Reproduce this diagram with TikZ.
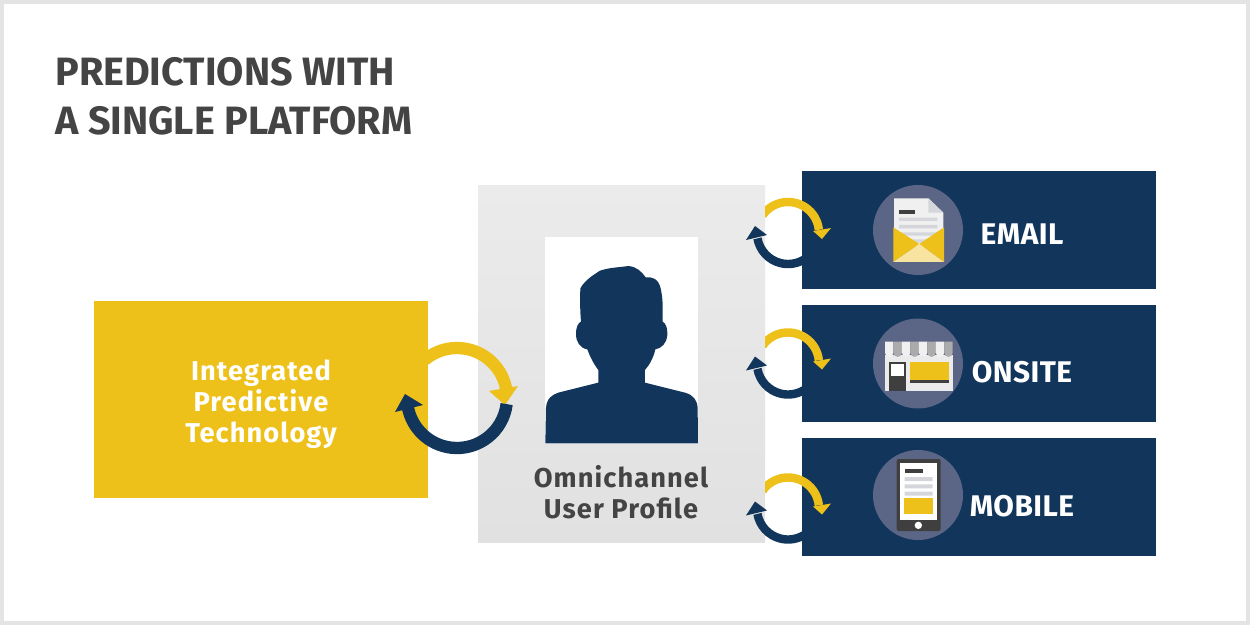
\documentclass[tikz,border=0pt]{standalone}
\usepackage{fontspec}
\setmainfont{Fira Sans}
\newfontfamily\labfont{Fira Sans}[BoldFont={Fira Sans Bold},LetterSpace=1.5]
\newfontfamily\boxfont{Fira Sans}[BoldFont={Fira Sans Bold},LetterSpace=4]
\newfontfamily\headfont{Fira Sans}[BoldFont={Fira Sans Bold}]
\usetikzlibrary{calc}
\definecolor{navy}{HTML}{12355B}
\definecolor{gold}{HTML}{EEC11A}
\definecolor{ink}{HTML}{444444}
\definecolor{framegray}{HTML}{E4E4E4}
\definecolor{halo}{HTML}{5B6585}
\definecolor{paper}{HTML}{F0F0F0}
\definecolor{rule}{HTML}{D4D6DC}
\definecolor{dark}{HTML}{3F3F3F}
\definecolor{pale}{HTML}{F8E3A0}
\definecolor{awn}{HTML}{ABABAB}
\definecolor{paneltop}{HTML}{EBEBEB}
\definecolor{panelbot}{HTML}{E1E1E1}
\tikzset{
  x=0.02cm,y=-0.02cm,
  chanbox/.style={fill=navy},
  halocircle/.style={circle,fill=halo,inner sep=0pt,minimum size=1.8cm},
  chanlabel/.style={text=white,font=\labfont\bfseries\fontsize{17}{20}\selectfont,inner sep=0pt,anchor=center},
  boxlabel/.style={font=\boxfont\bfseries\fontsize{15.5}{17.6}\selectfont,align=center,inner sep=0pt,anchor=center},
  titlelabel/.style={anchor=base west,inner sep=0pt,text=ink,font=\headfont\bfseries\fontsize{22.5}{28}\selectfont},
  ylw/.style={draw=gold,line width=4.8pt},
  nvy/.style={draw=navy,line width=4.8pt},
}
\newcommand{\navyarc}[2]{%
  \coordinate (c) at (#1,#2);
  \draw[nvy] ($(c)+(14:31)$) arc (14:170:31);
  \fill[navy] ($(c)+(-33,-7)$) -- ($(c)+(-42,7)$) -- ($(c)+(-21,2)$) -- cycle;
}
\newcommand{\goldarc}[2]{%
  \coordinate (c) at (#1,#2);
  \begin{scope}
    \clip (765,100) rectangle (900,600);
    \draw[ylw] ($(c)+(-145:31)$) arc (-145:-6:31);
  \end{scope}
  \fill[gold] ($(c)+(34,6)$) -- ($(c)+(25,-2)$) -- ($(c)+(43,-5)$) -- cycle;
}
\begin{document}
\begin{tikzpicture}
\useasboundingbox (0,0) rectangle (1250,625);
\fill[white] (0,0) rectangle (1250,625);
\draw[framegray,line width=2.3pt] (2,2) rectangle (1248,623);

\node[titlelabel] (t1) at (55,86) {PREDICTIONS WITH};
\node[titlelabel] (t2) at (55,134.5) {A SINGLE PLATFORM};

\path[top color=paneltop,bottom color=panelbot] (478,185) rectangle (765,542);
\fill[white] (545,237) rectangle (698,444);
\begin{scope}[shift={(390,230)},x=0.00667cm,y=-0.00667cm]
\fill[navy] (466,640) -- (468,535) .. controls (470,505) and (485,495) .. (505,488)
  -- (625,458) -- (625,420) .. controls (610,400) and (600,380) .. (592,358)
  .. controls (570,355) and (558,335) .. (558,312) .. controls (558,290) and (565,278) .. (573,275)
  .. controls (570,240) and (570,210) .. (571,175) .. controls (585,150) and (610,135) .. (630,122)
  .. controls (660,112) and (690,112) .. (715,108) .. controls (740,110) and (755,125) .. (767,142)
  .. controls (785,140) and (805,145) .. (812,175) .. controls (820,210) and (818,240) .. (818,275)
  .. controls (828,280) and (833,295) .. (832,315) .. controls (830,340) and (815,355) .. (796,358)
  .. controls (790,385) and (778,405) .. (765,420) -- (765,458) -- (885,488)
  .. controls (910,495) and (922,510) .. (923,535) -- (924,640) -- cycle;
\end{scope}
\node[boxlabel,text=ink] (omni) at (621,492.5) {Omnichannel\\User Profile};

\navyarc{788}{233}\navyarc{788}{363.5}\navyarc{788}{508.5}
\fill[chanbox] (802,171) rectangle (1156,289);
\fill[chanbox] (802,305) rectangle (1156,422);
\fill[chanbox] (802,438) rectangle (1156,556);
\goldarc{788}{233}\goldarc{788}{363.5}\goldarc{788}{508.5}

\node[halocircle] (h1) at (918,230) {};
\node[halocircle] (h2) at (918,363.5) {};
\node[halocircle] (h3) at (918,495) {};

\begin{scope}[shift={(730,170)},x=0.00667cm,y=-0.00667cm]
\fill[paper] (492,85) -- (595,85) -- (640,128) -- (640,230) -- (492,230) -- cycle;
\fill[rule] (595,85) -- (640,128) -- (595,128) -- cycle;
\fill[dark] (507,120) rectangle (555,132);
\fill[rule] (507,143) rectangle (622,153) (507,165) rectangle (622,175) (507,187) rectangle (622,197) (507,208) rectangle (622,218);
\fill[gold] (490,172) -- (568,222) -- (490,276) -- cycle;
\fill[gold] (642,172) -- (568,222) -- (642,276) -- cycle;
\fill[pale] (490,276) -- (568,222) -- (642,276) -- cycle;
\end{scope}

\begin{scope}[shift={(730,305)},x=0.00667cm,y=-0.00667cm]
\fill[black!8] (465,150) rectangle (668,257);
\foreach \i [evaluate=\i as \xa using 465+\i*25.4] in {0,...,7}{
  \pgfmathparse{int(mod(\i,2))}
  \ifnum\pgfmathresult=0 \def\cc{paper}\else \def\cc{awn}\fi
  \fill[\cc] (\xa,110) -- ++(25.4,0) -- ++(0,33) arc (0:180:12.7) -- cycle;
}
\fill[dark] (477,172) rectangle (528,257);
\fill[white] (483,178) rectangle (523,212);
\fill[gold] (540,170) rectangle (657,226);
\fill[dark] (540,226) rectangle (657,233);
\end{scope}

\begin{scope}[shift={(730,435)},x=0.00667cm,y=-0.00667cm]
\fill[dark,rounded corners=1.2pt] (500,72) rectangle (632,288);
\fill[white] (510,85) rectangle (620,255);
\fill[dark] (524,102) rectangle (578,115);
\fill[rule] (524,126) rectangle (608,138) (524,148) rectangle (608,160) (524,170) rectangle (608,182);
\fill[gold] (522,190) rectangle (608,237);
\fill[white] (565,271) circle (11);
\end{scope}

\node[chanlabel] (email) at (1022,234) {EMAIL};
\node[chanlabel] (onsite) at (1022,372) {ONSITE};
\node[chanlabel] (mobile) at (1022,506) {MOBILE};

\fill[gold] (94,301) rectangle (428,498);
\node[boxlabel,text=white] (ipt) at (261,404) {Integrated\\Predictive\\Technology};
\coordinate (big) at (457,398);
\draw[draw=gold,line width=7pt] ($(big)+(-130:50)$) arc (-130:-8:50);
\fill[gold] ($(big)+(48,7)$) -- ($(big)+(32,-7)$) -- ($(big)+(61,-12)$) -- cycle;
\draw[draw=navy,line width=7pt] ($(big)+(7:50)$) arc (7:170:50);
\fill[navy] ($(big)+(-52,-4)$) -- ($(big)+(-62,14)$) -- ($(big)+(-34,7)$) -- cycle;
\end{tikzpicture}
\end{document}
